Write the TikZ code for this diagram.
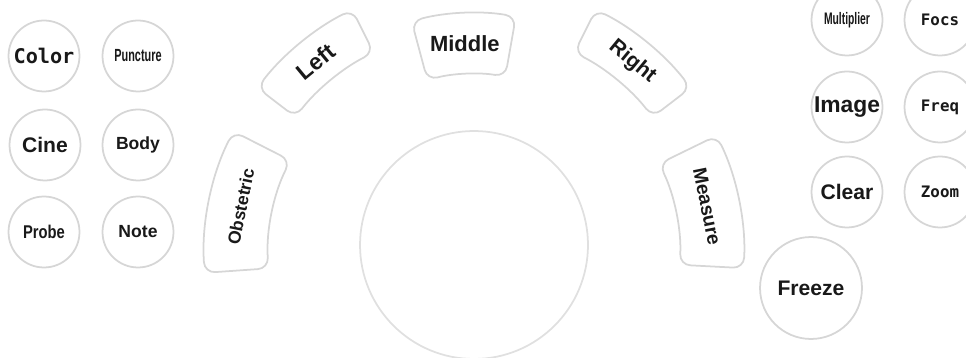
\documentclass[tikz,border=0pt]{standalone}
\usepackage{fontspec}
\setmainfont{Liberation Sans}
\newfontfamily\keymono{DejaVu Sans Mono}
\newfontfamily\keynarrow[FakeStretch=0.62]{Liberation Sans}
\newfontfamily\keyslim[FakeStretch=0.8]{Liberation Sans}
\usetikzlibrary{calc}

\begin{document}
\begin{tikzpicture}[
    x=0.02cm, y=0.02cm,
    % key styles
    roundkey/.style = {circle, draw=black!16, line width=1pt, fill=white,
                       minimum size=1.42cm, inner sep=0pt, text=black!90,
                       font=\bfseries\fontsize{12}{14}\selectfont},
    bigkey/.style   = {roundkey, minimum size=2.04cm},
    ballkey/.style  = {circle, draw=black!12, line width=1pt,
                       minimum size=4.56cm, inner sep=0pt},
    arckey/.style   = {draw=black!16, line width=1pt, rounded corners=6pt},
    arclabel/.style = {text=black!90, inner sep=0pt},
    % text sizes
    monotxt/.style  = {font=\keymono\bfseries\fontsize{9}{10}\selectfont},
    smalltxt/.style = {font=\bfseries\fontsize{10}{12}\selectfont}
  ]

\clip (0,0) rectangle (966,358);

% ============================================================
% Left block of round keys
% ============================================================
\node[roundkey, font=\keymono\bfseries\fontsize{11.5}{13}\selectfont] (color) at (44,302) {Color};
\node[roundkey, font=\keynarrow\bfseries\fontsize{10}{12}\selectfont] (puncture) at (138,302) {Puncture};
\node[roundkey] (cine) at (45,213) {Cine};
\node[roundkey, smalltxt] (body) at (138,213) {Body};
\node[roundkey, font=\keyslim\bfseries\fontsize{10.5}{12}\selectfont] (probe) at (44,126) {Probe};
\node[roundkey, smalltxt] (note) at (138,126) {Note};

% ============================================================
% Trackball and the arc keys around it
% ============================================================
\coordinate (hub) at (474,104);
\node[ballkey] (ball) at (474,113) {};

\foreach \ang/\rin/\rout/\hw/\rot/\nm/\lbl/\fs in {
    168.5/206/270/15.5/78.5/obstetric/Obstetric/10,
    129.5/225/273/13/39.5/left/Left/13,
    92.5/180/241/12.5/0/middle/Middle/12.5,
    50.5/225/273/13/-39.5/right/Right/12,
    11.5/206/270/14.5/-78.5/measure/Measure/11}
{
  \draw[arckey] ($(hub)+(\ang-\hw:\rin)$)
      arc[start angle=\ang-\hw, end angle=\ang+\hw, radius=\rin]
      -- ($(hub)+(\ang+\hw:\rout)$)
      arc[start angle=\ang+\hw, end angle=\ang-\hw, radius=\rout] -- cycle;
  \node[arclabel, rotate=\rot, font=\bfseries\fontsize{\fs}{\fs}\selectfont]
    (\nm) at ($(hub)+(\ang:{(\rin+\rout)/2})$) {\lbl};
}

% ============================================================
% Right block of round keys
% ============================================================
\node[roundkey, font=\keynarrow\bfseries\fontsize{9.5}{11}\selectfont] (multiplier) at (847,338) {Multiplier};
\node[roundkey, monotxt] (focs) at (940,338) {Focs};
\node[roundkey, font=\bfseries\fontsize{13}{15}\selectfont] (image) at (847,251) {Image};
\node[roundkey, monotxt] (freq) at (940,251) {Freq};
\node[roundkey] (clear) at (847,166) {Clear};
\node[roundkey, monotxt] (zoom) at (940,166) {Zoom};
\node[bigkey] (freeze) at (811,70) {Freeze};

\end{tikzpicture}
\end{document}
